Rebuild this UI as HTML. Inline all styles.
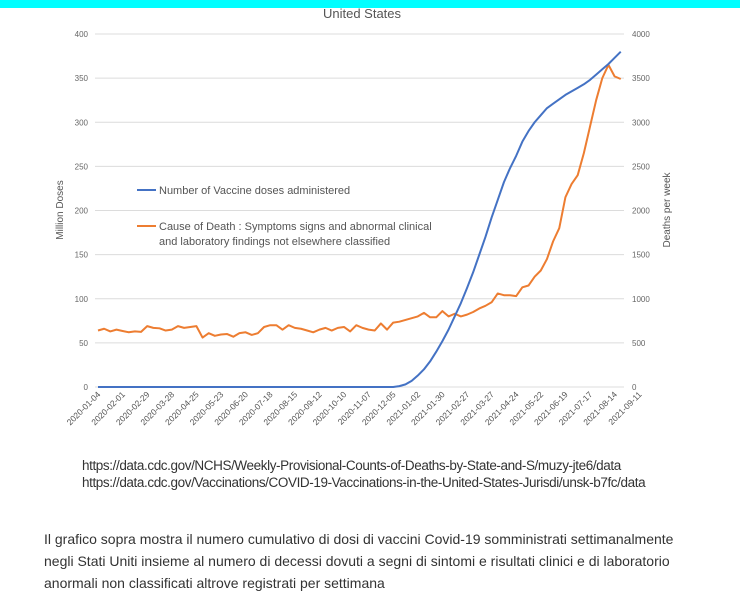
<!DOCTYPE html>
<html><head><meta charset="utf-8"><style>
body{margin:0;width:740px;height:581px;overflow:hidden;background:#fff;font-family:"Liberation Sans",sans-serif;position:relative}
.bar{position:absolute;left:0;top:0;width:740px;height:8px;background:#00ffff}
.src{position:absolute;left:82px;font-size:13.5px;color:#333;letter-spacing:-0.4px;white-space:nowrap}
.p{position:absolute;left:44px;font-size:14px;color:#333;white-space:nowrap;letter-spacing:0px}
</style></head><body>
<div class="bar"></div>
<svg id="chart" width="740" height="450" style="position:absolute;left:0;top:0"></svg>
<div class="src" style="top:458px">https://data.cdc.gov/NCHS/Weekly-Provisional-Counts-of-Deaths-by-State-and-S/muzy-jte6/data</div>
<div class="src" style="top:475px">https://data.cdc.gov/Vaccinations/COVID-19-Vaccinations-in-the-United-States-Jurisdi/unsk-b7fc/data</div>
<div class="p" style="top:531px">Il grafico sopra mostra il numero cumulativo di dosi di vaccini Covid-19 somministrati settimanalmente</div>
<div class="p" style="top:553px">negli Stati Uniti insieme al numero di decessi dovuti a segni di sintomi e risultati clinici e di laboratorio</div>
<div class="p" style="top:575px">anormali non classificati altrove registrati per settimana</div>
<script>
const tickLabels=["2020-01-04","2020-02-01","2020-02-29","2020-03-28","2020-04-25","2020-05-23","2020-06-20","2020-07-18","2020-08-15","2020-09-12","2020-10-10","2020-11-07","2020-12-05","2021-01-02","2021-01-30","2021-02-27","2021-03-27","2021-04-24","2021-05-22","2021-06-19","2021-07-17","2021-08-14","2021-09-11"];
const leftTicks=[0,50,100,150,200,250,300,350,400];
const rightTicks=[0,500,1000,1500,2000,2500,3000,3500,4000];
const doses=[0,0,0,0,0,0,0,0,0,0,0,0,0,0,0,0,0,0,0,0,0,0,0,0,0,0,0,0,0,0,0,0,0,0,0,0,0,0,0,0,0,0,0,0,0,0,0,0,0,1,3,7,13,20,29,40,52,65,80,95,112,130,150,170,192,212,232,248,262,278,290,300,308,316,321,326,331,335,339,343,348,354,360,366,373,380];
const deaths=[640,660,630,650,635,620,630,625,690,670,665,640,650,690,670,680,690,560,610,580,595,600,570,610,620,590,610,680,700,700,650,700,670,660,640,620,650,670,640,670,680,630,700,670,650,640,720,650,730,740,760,780,800,840,790,790,860,800,830,800,820,850,890,920,960,1060,1040,1040,1030,1130,1150,1250,1320,1450,1650,1800,2150,2300,2400,2650,2950,3250,3500,3650,3520,3490];
const NS="http://www.w3.org/2000/svg";
const svg=document.getElementById('chart');
const x0=98,dx=6.15,yBase=387,yTop=34;
const xs=i=>x0+i*dx;
const yL=v=>yBase-(v/400)*(yBase-yTop);
const yR=v=>yBase-(v/4000)*(yBase-yTop);
function mk(t,a){const e=document.createElementNS(NS,t);for(const k in a)e.setAttribute(k,a[k]);svg.appendChild(e);return e;}
function txt(s,a){const e=mk('text',a);e.textContent=s;return e;}
let t=txt('United States',{x:362,y:18,'text-anchor':'middle','font-size':13,fill:'#555'});

leftTicks.forEach(v=>{
 const g=mk('line',{x1:95,x2:624,y1:yL(v),y2:yL(v),stroke:'#dcdcdc','stroke-width':1});
 
 const l=txt(String(v),{x:88,y:yL(v)+3,'text-anchor':'end','font-size':8,fill:'#666'});
 
});
rightTicks.forEach(v=>{
 const l=txt(String(v),{x:632,y:yR(v)+3,'font-size':8,fill:'#666'});
 
});
tickLabels.forEach((s,i)=>{
 const x=xs(i*4)+3,y=395;
 const l=txt(s,{x:x,y:y,'text-anchor':'end','font-size':8.5,fill:'#555',transform:`rotate(-45 ${x} ${y})`});
 
});
let a=txt('Million Doses',{x:63,y:210,'text-anchor':'middle','font-size':10,fill:'#555',transform:'rotate(-90 63 210)'});

a=txt('Deaths per week',{x:670,y:210,'text-anchor':'middle','font-size':10,fill:'#555',transform:'rotate(-90 670 210)'});

let p=mk('polyline',{points:deaths.map((v,i)=>xs(i)+','+yR(v)).join(' '),fill:'none',stroke:'#ed7d31','stroke-width':2,'stroke-linejoin':'round'});

p=mk('polyline',{points:doses.map((v,i)=>xs(i)+','+yL(v)).join(' '),fill:'none',stroke:'#4472c4','stroke-width':2,'stroke-linejoin':'round'});

let lg=mk('line',{x1:137,x2:156,y1:190,y2:190,stroke:'#4472c4','stroke-width':2});

lg=txt('Number of Vaccine doses administered',{x:159,y:194,'font-size':11,fill:'#555'});

lg=mk('line',{x1:137,x2:156,y1:226,y2:226,stroke:'#ed7d31','stroke-width':2});

lg=txt('Cause of Death : Symptoms signs and abnormal clinical',{x:159,y:230,'font-size':11,fill:'#555'});

lg=txt('and laboratory findings not elsewhere classified',{x:159,y:245,'font-size':11,fill:'#555'});

</script>
</body></html>
